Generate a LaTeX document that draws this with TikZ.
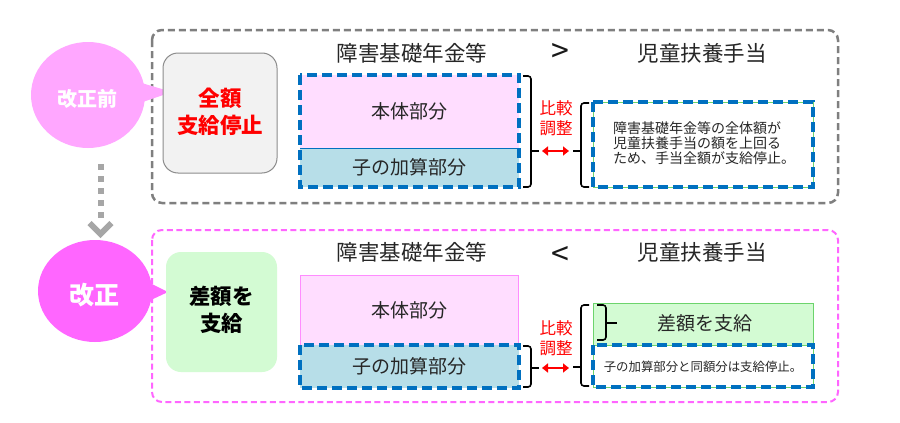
\documentclass[tikz,border=0pt]{standalone}
\usepackage{fontspec}
\setmainfont{Noto Sans CJK JP}
\usetikzlibrary{arrows.meta,shapes.geometric}
\definecolor{graydash}{HTML}{7F7F7F}
\definecolor{bluedash}{HTML}{0070C0}
\definecolor{pinkdash}{HTML}{FF66FF}
\definecolor{bubA}{HTML}{FFA7FF}
\definecolor{bubB}{HTML}{FF66FF}
\definecolor{boxgray}{HTML}{F2F2F2}
\definecolor{boxline}{HTML}{8C8C8C}
\definecolor{pinkfill}{HTML}{FFDDFF}
\definecolor{pinkline}{HTML}{FF8CFF}
\definecolor{kidfill}{HTML}{B7DEE8}
\definecolor{greenfill}{HTML}{D3FBD3}
\definecolor{greenline}{HTML}{6CD46C}
\definecolor{arrgray}{HTML}{A6A6A6}
\newcommand{\fs}[2]{\fontsize{#1pt}{#2pt}\selectfont}
\tikzset{
  every node/.style={inner sep=0pt, outer sep=0pt},
  outergray/.style={draw=graydash, line width=2.5pt, dash pattern=on 7pt off 4pt, rounded corners=10pt},
  outerpink/.style={draw=pinkdash, line width=2pt, dash pattern=on 6pt off 3.5pt, rounded corners=10pt},
  bluedashed/.style={draw=bluedash, line width=3.5pt, dash pattern=on 10pt off 5pt},
  title/.style={font=\fs{21.5}{26}, text=black!85},
  relsign/.style={font=\fs{32}{36}, text=black!90},
  part/.style={font=\fs{19}{23}, text=black!85, minimum width=219pt},
  brc/.style={draw=black, line width=1.6pt, rounded corners=3pt},
  cmp/.style={font=\fs{16.5}{20}, text=red, align=center},
  redarr/.style={draw=red, line width=1.8pt, {Triangle[length=6pt,width=9pt]}-{Triangle[length=6pt,width=9pt]}},
  bigbox/.style={rounded corners=15pt, minimum width=111pt, minimum height=120pt},
  bigtext/.style={font=\bfseries\fs{21.5}{27}, align=center},
  note/.style={font=\fs{14}{15.2}, text=black!85, align=left}
}
\begin{document}
\begin{tikzpicture}[x=1pt,y=-1pt]
\useasboundingbox (0,0) rectangle (900,423);
\fill[white] (0,0) rectangle (900,423);

% ===== outer frames =====
\draw[outergray] (152,30) rectangle (838,203);
\draw[outerpink] (152,230) rectangle (838,402);

% ===== bubbles =====
\node[ellipse, fill=bubA, minimum width=114pt, minimum height=106pt] (bubA) at (88,95) {};
\fill[bubA] (128,79) -- (172,92) -- (128,107) -- cycle;
\node[font=\bfseries\fs{20}{24}, text=white] (bubAt) at (87,99) {改正前};

\node[ellipse, fill=bubB, minimum width=114pt, minimum height=102pt] (bubB) at (95,291) {};
\fill[bubB] (136,276) -- (168,292) -- (136,307) -- cycle;
\node[font=\bfseries\fs{25}{30}, text=white] (bubBt) at (94,295) {改正};

% dotted arrow between bubbles
\coordinate (da1) at (100.5,164);
\coordinate (da2) at (100.5,220);
\draw[arrgray, line width=6pt, dash pattern=on 6pt off 6pt] (da1) -- (da2);
\coordinate (ch1) at (89.5,223);
\coordinate (ch2) at (100.5,234);
\coordinate (ch3) at (111.5,223);
\draw[arrgray, line width=6pt] (ch1) -- (ch2) -- (ch3);

% ===== left result boxes =====
\node[bigbox, draw=boxline, line width=1pt, fill=boxgray, minimum width=114pt] (stopbox) at (220,113) {};
\node[bigtext, text=red] (stoptext) at (220,111.5) {全額\\支給停止};

\node[bigbox, fill=greenfill] (diffbox) at (221.5,312) {};
\node[bigtext, text=black] (difftext) at (221.5,309.5) {差額を\\支給};

% ===== titles =====
\node[title] (t1a) at (412,53) {障害基礎年金等};
\node[relsign] (t1b) at (560,53) {>};
\node[title] (t1c) at (702,53) {児童扶養手当};
\node[title] (t2a) at (412,252) {障害基礎年金等};
\node[relsign] (t2b) at (560,256) {<};
\node[title] (t2c) at (702,252) {児童扶養手当};

% ===== top stack =====
\node[part, fill=pinkfill, minimum height=73pt] (body1) at (409.5,111.5) {本体部分};
\node[part, fill=kidfill, minimum height=39pt] (kid1) at (409.5,167.5) {子の加算部分};
\draw[bluedash, line width=1pt] (body1.south west) -- (body1.south east);
\draw[bluedashed] (body1.north west) rectangle (kid1.south east);

% right brace (top)
\draw[brc] (523,76) -- (531,76) -- (531,187) -- (523,187);
\draw[brc] (531,151) -- (539,151);
\coordinate (ra1) at (542,151);
\coordinate (rb1) at (569,151);
\draw[redarr] (ra1) -- (rb1);
\node[cmp] (cmp1) at (556,118.5) {比較\\調整};
% left brace (top)
\draw[brc] (589,103) -- (581,103) -- (581,187) -- (589,187);
\draw[brc] (581,151) -- (573,151);

% top right note box
\node[draw=greenline, line width=0.8pt, fill=white, minimum width=220pt, minimum height=85pt] (note1) at (703,144.5) {};
\draw[bluedashed] (note1.north west) rectangle (note1.south east);
\node[note, anchor=west] (note1t) at (613,143) {障害基礎年金等の全体額が\\児童扶養手当の額を上回る\\ため、手当全額が支給停止。};

% ===== bottom stack =====
\node[part, fill=pinkfill, draw=pinkline, line width=1pt, minimum width=218pt, minimum height=70pt] (body2) at (409,310) {本体部分};
\node[part, fill=kidfill, minimum height=43pt] (kid2) at (409.5,366.5) {子の加算部分};
\draw[bluedashed] (kid2.north west) rectangle (kid2.south east);

\draw[brc] (523,346) -- (531,346) -- (531,387) -- (523,387);
\draw[brc] (531,368) -- (539,368);
\coordinate (ra2) at (542,368);
\coordinate (rb2) at (569,368);
\draw[redarr] (ra2) -- (rb2);
\node[cmp] (cmp2) at (556,338.5) {比較\\調整};
\draw[brc] (589,305) -- (581,305) -- (581,386) -- (589,386);
\draw[brc] (581,367) -- (573,367);

% bottom right: green part + dashed part
\node[draw=greenline, line width=1pt, fill=greenfill, minimum width=220pt, minimum height=42pt] (green2) at (703,324) {};
\node[font=\fs{19}{23}, text=black!85] (green2t) at (705,323) {差額を支給};
\draw[brc] (597,305) -- (606,305) -- (606,340) -- (597,340);
\draw[brc] (606,323) -- (617,323);
\node[draw=greenline, line width=0.8pt, fill=white, minimum width=220pt, minimum height=42pt] (note2) at (703,366) {};
\draw[bluedashed] (note2.north west) rectangle (note2.south east);
\node[font=\fs{12.4}{15}, text=black!85] (note2t) at (703,367) {子の加算部分と同額分は支給停止。};
\end{tikzpicture}
\end{document}
